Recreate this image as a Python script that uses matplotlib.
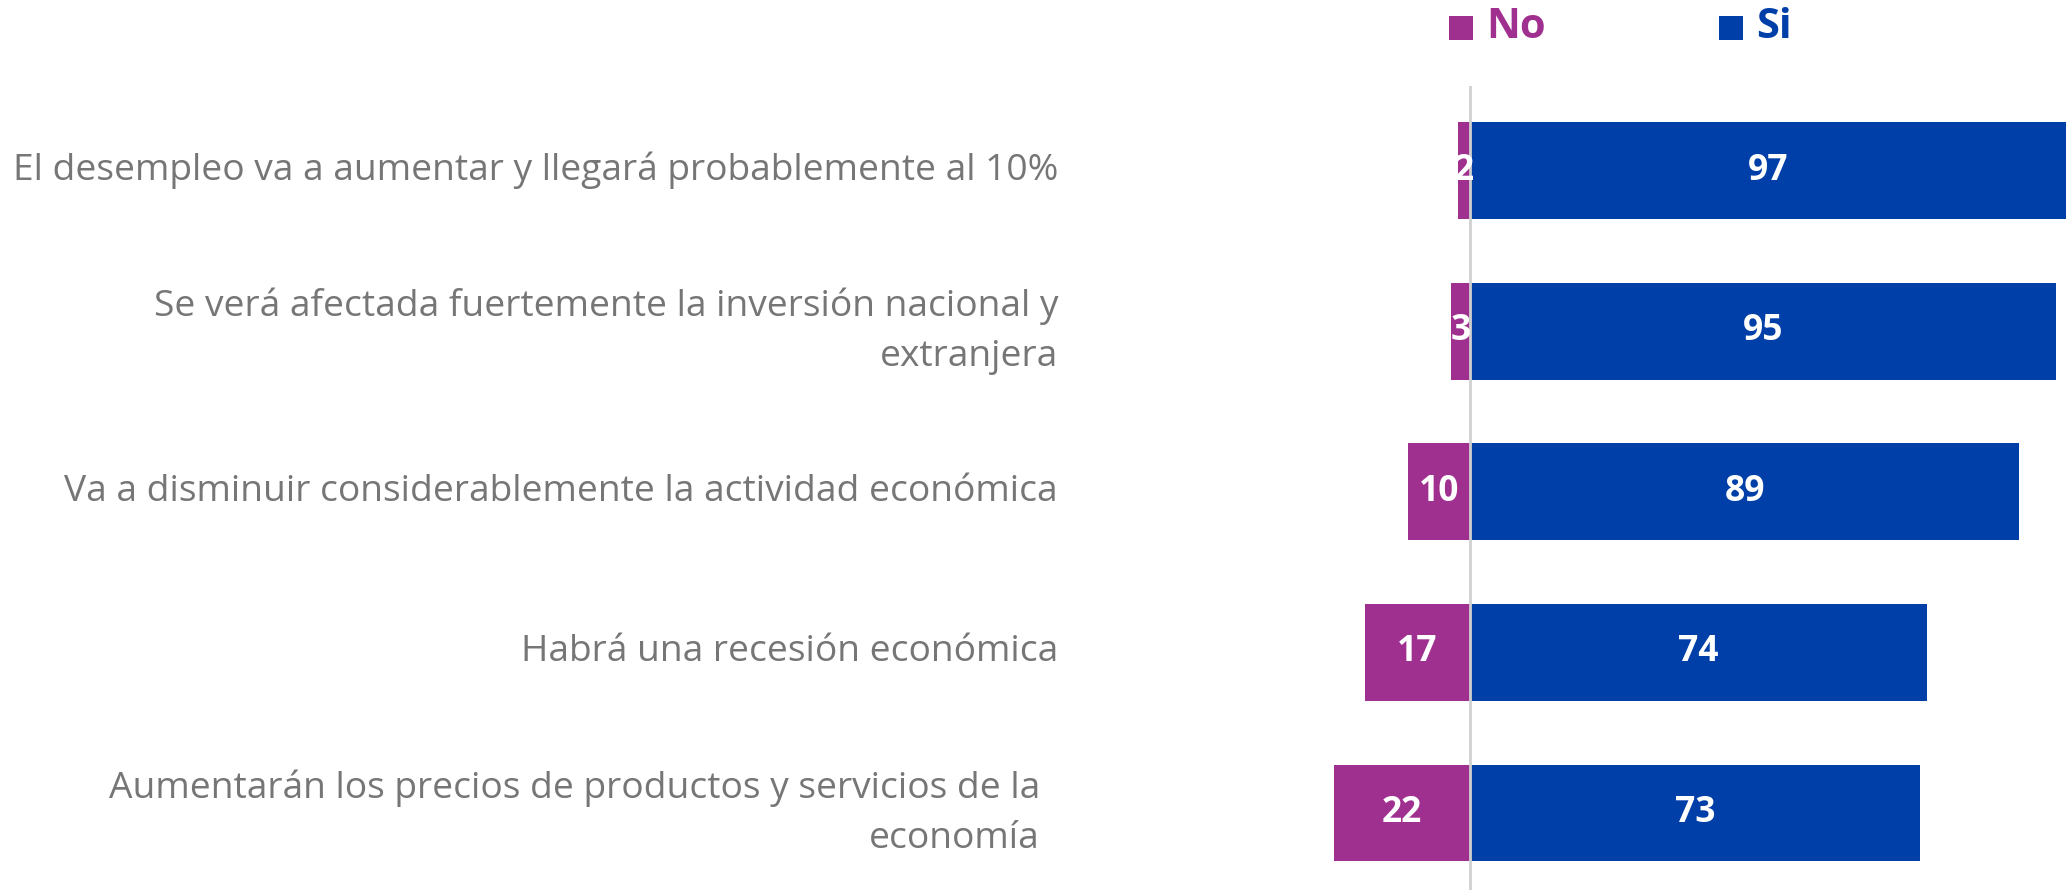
import matplotlib
matplotlib.use("Agg")
import matplotlib.pyplot as plt
from matplotlib.patches import Rectangle
from matplotlib.transforms import blended_transform_factory

categories = [
    "El desempleo va a aumentar y llegará probablemente al 10%",
    "Se verá afectada fuertemente la inversión nacional y\nextranjera",
    "Va a disminuir considerablemente la actividad económica",
    "Habrá una recesión económica",
    "Aumentarán los precios de productos y servicios de la\neconomía",
]
no_values = [2, 3, 10, 17, 22]
si_values = [97, 95, 89, 74, 73]
series_names = ["No", "Si"]

C_NO = "#A03090"
C_SI = "#003FA8"
C_TXT = "#767676"

W, H = 2066, 890
fig = plt.figure(figsize=(W / 100, H / 100), dpi=100)
fig.patch.set_facecolor("white")

# axes in pixel coordinates
ax_l, ax_r, ax_t, ax_b = 1300, 2066, 86, 890
ax = fig.add_axes([ax_l / W, 1 - ax_b / H, (ax_r - ax_l) / W, (ax_b - ax_t) / H])
ax.set_xlim(-27.55, 96.6)
ax.set_ylim(4.479, -0.527)
ax.axis("off")

ypos = list(range(len(categories)))
bh = 0.603
ax.barh(ypos, [-v for v in no_values], height=bh, color=C_NO, edgecolor="none", zorder=2)
ax.barh(ypos, si_values, height=bh, color=C_SI, edgecolor="none", zorder=2)
ax.axvline(0, color="#D0D0D0", lw=2, zorder=3)

xmax = ax.get_xlim()[1]
for y, n, s in zip(ypos, no_values, si_values):
    ax.text(-n / 2, y, str(n), ha="center", va="center", color="white",
            fontsize=25.5, fontweight="bold", family="Open Sans", zorder=4)
    ax.text(min(s, xmax) / 2, y, str(s), ha="center", va="center", color="white",
            fontsize=25.5, fontweight="bold", family="Open Sans", zorder=4)

# category labels
trans = blended_transform_factory(fig.transFigure, ax.transData)
label_right = [1058, 1058, 1058, 1058, 1040]
for y, lab, xr in zip(ypos, categories, label_right):
    fig.text(xr / W, y, lab, transform=trans, ha="right", va="center",
             multialignment="right", color=C_TXT, fontsize=26.7,
             family="Open Sans", linespacing=1.5)

# legend
leg = [(1449, series_names[0], C_NO), (1719, series_names[1], C_SI)]
for x0, name, col in leg:
    fig.patches.append(Rectangle((x0 / W, 1 - 40 / H), 24 / W, 24.5 / H,
                                 transform=fig.transFigure, facecolor=col,
                                 edgecolor="none"))
    fig.text((x0 + 37) / W, 1 - 27 / H, name, ha="left", va="center",
             color=col, fontsize=30, fontweight="bold", family="Open Sans")

fig.savefig("out.png", dpi=100, facecolor="white")
